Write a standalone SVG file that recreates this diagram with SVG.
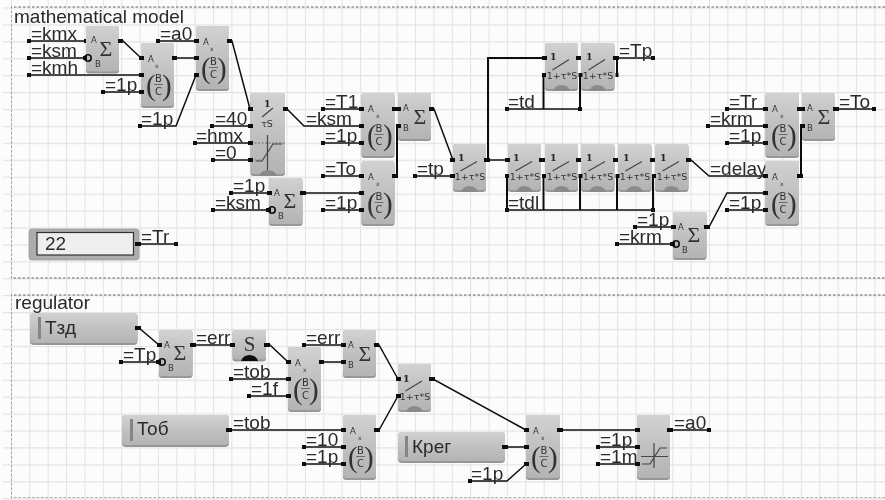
<svg xmlns="http://www.w3.org/2000/svg" width="885" height="500" viewBox="0 0 885 500">
<style>
text{font-family:"Liberation Sans",Arial,sans-serif;fill:#2a2a2a}
.l{font-size:19px}
.a{font-size:8.5px;font-family:"DejaVu Sans",sans-serif;fill:#333}
.x{font-size:6px;font-family:"DejaVu Sans",sans-serif;fill:#333}
.f{font-size:9.5px;font-family:"DejaVu Sans",sans-serif;fill:#333;text-anchor:middle}
.g{font-size:22px;font-family:"Liberation Serif",serif;fill:#333;text-anchor:middle}
.par{font-size:29px;font-family:"Liberation Serif",serif;fill:#333}
.one{font-size:9.5px;font-weight:bold;font-family:"DejaVu Serif",serif;fill:#222}
.den{font-size:10px;font-family:"DejaVu Sans",sans-serif;fill:#333;text-anchor:middle}
.e{fill:#979797}
.b{fill:url(#bg)}
.w{stroke:#111;stroke-width:1.5;fill:none;marker-start:url(#sq);marker-end:url(#sq)}
.n{stroke:#111;stroke-width:2;fill:none}
.p{fill:#111}
.i{fill:none;stroke:#111;stroke-width:1.6}
.sl{stroke:#444;stroke-width:1.2;fill:none}
.nt{fill:#8a8a8a}
.fr{fill:none;stroke:#666;stroke-width:1;stroke-dasharray:2.5 2}
.bar{stroke:#555;stroke-width:.8;fill:none}
</style>
<defs>
<linearGradient id="bg" x1="0" y1="0" x2="0" y2="1"><stop offset="0" stop-color="#d2d2d2"/><stop offset=".55" stop-color="#bfbfbf"/><stop offset="1" stop-color="#b4b4b4"/></linearGradient>
<pattern id="grid" patternUnits="userSpaceOnUse" x="-7.44" y="-9.5" width="18.37" height="16.92"><path d="M.5 0V16.92M0 .6H18.37" fill="none" stroke="#e3e3e3" stroke-width="1.1"/></pattern>
<marker id="sq" markerUnits="userSpaceOnUse" markerWidth="4" markerHeight="4" refX="2" refY="2"><rect width="4" height="4" fill="#111"/></marker>
<filter id="soft" x="0" y="0" width="100%" height="100%"><feGaussianBlur stdDeviation="0.35"/></filter>
</defs>
<rect width="885" height="500" fill="#fcfcfc"/>
<rect x="3" width="882" height="500" fill="url(#grid)"/>
<g filter="url(#soft)">
<g id="frames">
<path class="fr" d="M885 7H11V278H885"/>
<path class="fr" d="M885 295H11V498H885"/>
<text class="l" x="14" y="23">mathematical model</text>
<text class="l" x="15" y="309">regulator</text>
</g>
<g id="connectors">
<path class="w" d="M29 41H86"/><path class="w" d="M29 58H85"/><path class="w" d="M29 75H141"/>
<path class="w" d="M120 41H123L141 58"/><path class="w" d="M103 92H141"/><path class="w" d="M174 58H196"/>
<path class="w" d="M158 41H196"/><path class="w" d="M140 126H176L196 75"/><path class="w" d="M229 41H232L250 109"/>
<path class="w" d="M212 126H250"/><path class="w" d="M195 143H250"/><path class="w" d="M213 160H250"/>
<path class="w" d="M285 109H287L304 126H361"/><path class="w" d="M323 109H361"/><path class="w" d="M323 143H361"/>
<path class="w" d="M323 176H361"/><path class="w" d="M415 176H453"/><path class="w" d="M303 193H361"/>
<path class="w" d="M231 193H269"/><path class="w" d="M213 210H268"/><path class="w" d="M323 210H361"/>
<path class="n" d="M394 109H398"/><path class="n" d="M395 176H397V126H398"/>
<path class="w" d="M431 109H434L453 160"/>
<path class="w" d="M486 160H508"/><path class="n" d="M488 160V58H545"/><path class="n" d="M578 58H581"/>
<path class="w" d="M507 109H580"/><path class="n" d="M543.500 109V75M580 109V75"/>
<path class="w" d="M615 58H653"/><path class="n" d="M617 58V75"/>
<path class="n" d="M541 160H545M578 160H581M615 160H618M652 160H655"/>
<path class="w" d="M688 160H691L709 176H765"/>
<path class="w" d="M507 210H653"/><path class="n" d="M507 176V210M543.500 176V210M580 176V210M617 176V210M653 176V210"/>
<path class="w" d="M727 109H765"/><path class="w" d="M708 126H765"/><path class="w" d="M727 143H765"/><path class="w" d="M727 210H765"/>
<path class="w" d="M707 227H709L727 193H765"/><path class="w" d="M635 227H673"/><path class="w" d="M617 244H672"/>
<path class="n" d="M799 109H802"/><path class="n" d="M799 176H801V126H802"/><path class="w" d="M835 109H874"/>
<path class="w" d="M139 244H176"/>
<path class="w" d="M137 328H139L159 345"/><path class="w" d="M121 362H158"/><path class="w" d="M192 345H232"/>
<path class="w" d="M266 345H270L288 362"/><path class="w" d="M231 379H288"/><path class="w" d="M249 396H288"/>
<path class="w" d="M304 345H343"/><path class="w" d="M321 362H343"/><path class="w" d="M376 345H379L398 379"/>
<path class="w" d="M376 430H379L398 396"/><path class="w" d="M229 430H343"/><path class="w" d="M304 447H343"/><path class="w" d="M304 464H343"/>
<path class="w" d="M431 379H433L526 430"/><path class="w" d="M505 447H526"/><path class="w" d="M470 481H507L526 464"/>
<path class="w" d="M560 430H637"/><path class="w" d="M598 447H637"/><path class="w" d="M598 464H637"/><path class="w" d="M670 430H709"/>
</g>
<g id="labels">
<text class="l" x="31" y="40">=kmx</text><text class="l" x="31" y="57">=ksm</text><text class="l" x="31" y="74">=kmh</text>
<text class="l" x="105" y="91">=1p</text><text class="l" x="160" y="40">=a0</text><text class="l" x="141" y="125">=1p</text>
<text class="l" x="215" y="125">=40</text><text class="l" x="196" y="142">=hmx</text><text class="l" x="215" y="159">=0</text>
<text class="l" x="306" y="125">=ksm</text><text class="l" x="325" y="108">=T1</text><text class="l" x="325" y="142">=1p</text>
<text class="l" x="325" y="175">=To</text><text class="l" x="417" y="175">=tp</text><text class="l" x="233" y="192">=1p</text>
<text class="l" x="215" y="209">=ksm</text><text class="l" x="325" y="209">=1p</text>
<text class="l" x="508" y="108">=td</text><text class="l" x="619" y="57">=Tp</text><text class="l" x="710" y="175">=delay</text>
<text class="l" x="508" y="209">=tdl</text><text class="l" x="729" y="108">=Tr</text><text class="l" x="710" y="125">=krm</text>
<text class="l" x="729" y="142">=1p</text><text class="l" x="729" y="209">=1p</text><text class="l" x="637" y="226">=1p</text>
<text class="l" x="619" y="243">=krm</text><text class="l" x="839" y="108">=To</text><text class="l" x="141" y="243">=Tr</text>
<text class="l" x="123" y="361">=Tp</text><text class="l" x="196" y="344">=err</text><text class="l" x="233" y="378">=tob</text>
<text class="l" x="251" y="395">=1f</text><text class="l" x="306" y="344">=err</text><text class="l" x="233" y="429">=tob</text>
<text class="l" x="306" y="446">=10</text><text class="l" x="306" y="463">=1p</text><text class="l" x="471" y="480">=1p</text>
<text class="l" x="600" y="446">=1p</text><text class="l" x="600" y="463">=1m</text><text class="l" x="674" y="429">=a0</text>
</g>

<g id="sum1"><rect class="e" x="86" y="26" width="33" height="47.500" rx="3"/><rect class="b" x="86" y="26" width="33" height="45.500" rx="3"/>
<text class="a" x="91" y="43">A</text><text class="a" x="95" y="67">B</text><text class="g" x="106" y="56">Σ</text>
<circle class="i" cx="88" cy="58" r="3.200"/><rect class="p" x="83" y="56" width="4" height="4"/><rect class="p" x="118" y="39" width="5" height="4"/></g>

<g id="mult1"><rect class="e" x="141" y="43" width="33" height="65" rx="3"/><rect class="b" x="141" y="43" width="33" height="63" rx="3"/>
<text class="a" x="148" y="62">A</text><text class="x" x="155" y="68">x</text><text class="par" x="146" y="95">(</text><text class="par" x="162" y="95">)</text>
<text class="den" x="158.500" y="82">B</text><path class="bar" d="M154 84.500H163"/><text class="den" x="158.500" y="95">C</text>
<rect class="p" x="139" y="56" width="5" height="4"/><rect class="p" x="139" y="73" width="5" height="4"/><rect class="p" x="139" y="90" width="5" height="4"/><rect class="p" x="172" y="56" width="5" height="4"/></g>

<g id="mult2"><rect class="e" x="196" y="26" width="33" height="65" rx="3"/><rect class="b" x="196" y="26" width="33" height="63" rx="3"/>
<text class="a" x="203" y="45">A</text><text class="x" x="210" y="51">x</text><text class="par" x="201" y="78">(</text><text class="par" x="217" y="78">)</text>
<text class="den" x="213.500" y="65">B</text><path class="bar" d="M209 67.500H218"/><text class="den" x="213.500" y="78">C</text>
<rect class="p" x="194" y="39" width="5" height="4"/><rect class="p" x="194" y="56" width="5" height="4"/><rect class="p" x="194" y="73" width="5" height="4"/><rect class="p" x="227" y="39" width="5" height="4"/></g>

<g id="limit1"><rect class="e" x="250.500" y="93" width="34.500" height="83" rx="3"/><rect class="b" x="250.500" y="93" width="34.500" height="81" rx="3"/>
<text class="one" x="264" y="107">1</text><path class="sl" d="M262 117L273 108"/><text class="f" x="267" y="127">τS</text>
<path class="sl" d="M267.500 135V170"/><path class="bar" stroke-dasharray="2 1.500" d="M251 143H285M251 160H262"/><path class="sl" d="M256 161H262L273 144H282"/>
<path class="nt" d="M259 176Q261 170 268 170Q275 170 277 176Z"/>
<rect class="p" x="248" y="107" width="5" height="4"/><rect class="p" x="248" y="124" width="5" height="4"/><rect class="p" x="248" y="141" width="5" height="4"/><rect class="p" x="248" y="158" width="5" height="4"/><rect class="p" x="283" y="107" width="5" height="4"/></g>

<g id="mult3"><rect class="e" x="361.500" y="93" width="33" height="65" rx="3"/><rect class="b" x="361.500" y="93" width="33" height="63" rx="3"/>
<text class="a" x="368" y="112">A</text><text class="x" x="376" y="118">x</text><text class="par" x="367" y="145">(</text><text class="par" x="383" y="145">)</text>
<text class="den" x="379" y="132">B</text><path class="bar" d="M374.500 134.500H383.500"/><text class="den" x="379" y="145">C</text>
<rect class="p" x="359" y="107" width="5" height="4"/><rect class="p" x="359" y="124" width="5" height="4"/><rect class="p" x="359" y="141" width="5" height="4"/><rect class="p" x="392" y="107" width="6" height="4"/></g>

<g id="mult4"><rect class="e" x="361.500" y="161" width="33" height="65" rx="3"/><rect class="b" x="361.500" y="161" width="33" height="63" rx="3"/>
<text class="a" x="368" y="180">A</text><text class="x" x="376" y="186">x</text><text class="par" x="367" y="213">(</text><text class="par" x="383" y="213">)</text>
<text class="den" x="379" y="200">B</text><path class="bar" d="M374.500 202.500H383.500"/><text class="den" x="379" y="213">C</text>
<rect class="p" x="359" y="174" width="5" height="4"/><rect class="p" x="359" y="191" width="5" height="4"/><rect class="p" x="359" y="208" width="5" height="4"/><rect class="p" x="392" y="174" width="6" height="4"/></g>

<g id="sum2"><rect class="e" x="398" y="93" width="33" height="48" rx="3"/><rect class="b" x="398" y="93" width="33" height="46" rx="3"/>
<text class="a" x="403" y="111">A</text><text class="a" x="403" y="131">B</text><text class="g" x="420" y="124">Σ</text>
<rect class="p" x="396" y="107" width="5" height="4"/><rect class="p" x="396" y="124" width="5" height="4"/><rect class="p" x="429" y="107" width="5" height="4"/></g>

<g id="sum3"><rect class="e" x="269" y="178" width="33.500" height="48" rx="3"/><rect class="b" x="269" y="178" width="33.500" height="46" rx="3"/>
<text class="a" x="274" y="196">A</text><text class="a" x="278" y="219">B</text><text class="g" x="290" y="208">Σ</text>
<circle class="i" cx="272" cy="210" r="3.200"/><rect class="p" x="266" y="208" width="5" height="4"/><rect class="p" x="267" y="191" width="5" height="4"/><rect class="p" x="300" y="191" width="6" height="4"/></g>

<g id="lag0"><rect class="e" x="453" y="144" width="33" height="48" rx="3"/><rect class="b" x="453" y="144" width="33" height="46" rx="3"/>
<text class="one" x="458" y="161">1</text><path class="sl" d="M460.500 171L477 161.500"/><text class="f" x="470" y="180">1+τ*S</text><path class="nt" d="M461 192Q463 186 469.500 186Q476 186 478 192Z"/>
<rect class="p" x="450" y="158" width="5" height="4"/><rect class="p" x="450" y="174" width="5" height="4"/><rect class="p" x="484" y="158" width="6" height="4"/></g>

<g id="lag1"><rect class="e" x="508" y="144" width="33" height="48" rx="3"/><rect class="b" x="508" y="144" width="33" height="46" rx="3"/>
<text class="one" x="513" y="161">1</text><path class="sl" d="M515.500 171L532 161.500"/><text class="f" x="525" y="180">1+τ*S</text><path class="nt" d="M516 192Q518 186 524.500 186Q531 186 533 192Z"/>
<rect class="p" x="505" y="158" width="5" height="4"/><rect class="p" x="505" y="174" width="4" height="4"/><rect class="p" x="539" y="158" width="6" height="4"/></g>

<g id="lag2"><rect class="e" x="545" y="144" width="33" height="48" rx="3"/><rect class="b" x="545" y="144" width="33" height="46" rx="3"/>
<text class="one" x="550" y="161">1</text><path class="sl" d="M552.500 171L569 161.500"/><text class="f" x="562" y="180">1+τ*S</text><path class="nt" d="M553 192Q555 186 561.500 186Q568 186 570 192Z"/>
<rect class="p" x="542" y="174" width="4" height="4"/><rect class="p" x="576" y="158" width="6" height="4"/></g>

<g id="lag3"><rect class="e" x="581" y="144" width="33.500" height="48" rx="3"/><rect class="b" x="581" y="144" width="33.500" height="46" rx="3"/>
<text class="one" x="586" y="161">1</text><path class="sl" d="M588.500 171L605 161.500"/><text class="f" x="598" y="180">1+τ*S</text><path class="nt" d="M589 192Q591 186 597.500 186Q604 186 606 192Z"/>
<rect class="p" x="578.500" y="174" width="4" height="4"/><rect class="p" x="613" y="158" width="6" height="4"/></g>

<g id="lag4"><rect class="e" x="618" y="144" width="33.500" height="48" rx="3"/><rect class="b" x="618" y="144" width="33.500" height="46" rx="3"/>
<text class="one" x="623" y="161">1</text><path class="sl" d="M625.500 171L642 161.500"/><text class="f" x="635" y="180">1+τ*S</text><path class="nt" d="M626 192Q628 186 634.500 186Q641 186 643 192Z"/>
<rect class="p" x="615.500" y="174" width="4" height="4"/><rect class="p" x="650" y="158" width="6" height="4"/></g>

<g id="lag5"><rect class="e" x="655" y="144" width="33.500" height="48" rx="3"/><rect class="b" x="655" y="144" width="33.500" height="46" rx="3"/>
<text class="one" x="660" y="161">1</text><path class="sl" d="M662.500 171L679 161.500"/><text class="f" x="672" y="180">1+τ*S</text><path class="nt" d="M663 192Q665 186 671.500 186Q678 186 680 192Z"/>
<rect class="p" x="652" y="174" width="4" height="4"/><rect class="p" x="686" y="158" width="5" height="4"/></g>

<g id="lagt1"><rect class="e" x="545" y="43" width="33" height="48" rx="3"/><rect class="b" x="545" y="43" width="33" height="46" rx="3"/>
<text class="one" x="550" y="60">1</text><path class="sl" d="M552.500 70L569 59.500"/><text class="f" x="562" y="79">1+τ*S</text><path class="nt" d="M553 91Q555 85 561.500 85Q568 85 570 91Z"/>
<rect class="p" x="542" y="56" width="5" height="4"/><rect class="p" x="542" y="73" width="4" height="4"/><rect class="p" x="576" y="56" width="6" height="4"/></g>

<g id="lagt2"><rect class="e" x="581" y="43" width="33.500" height="48" rx="3"/><rect class="b" x="581" y="43" width="33.500" height="46" rx="3"/>
<text class="one" x="586" y="60">1</text><path class="sl" d="M588.500 70L605 59.500"/><text class="f" x="598" y="79">1+τ*S</text><path class="nt" d="M589 91Q591 85 597.500 85Q604 85 606 91Z"/>
<rect class="p" x="578.500" y="73" width="4" height="4"/><rect class="p" x="613" y="56" width="6" height="4"/><rect class="p" x="615.500" y="73" width="3" height="4"/></g>

<g id="mult5"><rect class="e" x="765.500" y="93" width="33.500" height="65" rx="3"/><rect class="b" x="765.500" y="93" width="33.500" height="63" rx="3"/>
<text class="a" x="772" y="112">A</text><text class="x" x="780" y="118">x</text><text class="par" x="771" y="145">(</text><text class="par" x="787" y="145">)</text>
<text class="den" x="783" y="132">B</text><path class="bar" d="M778.500 134.500H787.500"/><text class="den" x="783" y="145">C</text>
<rect class="p" x="763" y="107" width="5" height="4"/><rect class="p" x="763" y="124" width="5" height="4"/><rect class="p" x="763" y="141" width="5" height="4"/><rect class="p" x="797" y="107" width="6" height="4"/></g>

<g id="mult6"><rect class="e" x="765.500" y="161" width="33.500" height="65" rx="3"/><rect class="b" x="765.500" y="161" width="33.500" height="63" rx="3"/>
<text class="a" x="772" y="180">A</text><text class="x" x="780" y="186">x</text><text class="par" x="771" y="213">(</text><text class="par" x="787" y="213">)</text>
<text class="den" x="783" y="200">B</text><path class="bar" d="M778.500 202.500H787.500"/><text class="den" x="783" y="213">C</text>
<rect class="p" x="763" y="174" width="5" height="4"/><rect class="p" x="763" y="191" width="5" height="4"/><rect class="p" x="763" y="208" width="5" height="4"/><rect class="p" x="797" y="174" width="6" height="4"/></g>

<g id="sum4"><rect class="e" x="802" y="93" width="33" height="48" rx="3"/><rect class="b" x="802" y="93" width="33" height="46" rx="3"/>
<text class="a" x="807" y="111">A</text><text class="a" x="807" y="131">B</text><text class="g" x="824" y="124">Σ</text>
<rect class="p" x="800" y="107" width="5" height="4"/><rect class="p" x="800" y="124" width="5" height="4"/><rect class="p" x="833" y="107" width="6" height="4"/></g>

<g id="sum5"><rect class="e" x="673" y="212" width="33.500" height="48" rx="3"/><rect class="b" x="673" y="212" width="33.500" height="46" rx="3"/>
<text class="a" x="678" y="230">A</text><text class="a" x="682" y="253">B</text><text class="g" x="694" y="242">Σ</text>
<circle class="i" cx="676" cy="244" r="3.200"/><rect class="p" x="670" y="242" width="5" height="4"/><rect class="p" x="671" y="225" width="5" height="4"/><rect class="p" x="704" y="225" width="6" height="4"/></g>

<g id="widget22"><rect x="29" y="229" width="110" height="31" rx="3" fill="#adadad" stroke="#999" stroke-width=".8"/>
<rect x="37" y="232.500" width="96.500" height="22.500" fill="#eeeeee" stroke="#333" stroke-width="1.200"/>
<text class="l" x="45" y="250">22</text><rect class="p" x="135" y="242" width="6" height="4"/></g>

<g id="tzd"><rect class="e" x="30" y="313" width="107.500" height="32" rx="4"/><rect class="b" x="30" y="313" width="107.500" height="30" rx="4"/>
<rect x="38" y="317" width="3" height="22" fill="#858585"/><text class="l" x="45" y="334">Тзд</text><rect class="p" x="135" y="326" width="6" height="4"/></g>

<g id="sum6"><rect class="e" x="159" y="330" width="33.500" height="48" rx="3"/><rect class="b" x="159" y="330" width="33.500" height="46" rx="3"/>
<text class="a" x="164" y="348">A</text><text class="a" x="168" y="371">B</text><text class="g" x="180" y="360">Σ</text>
<circle class="i" cx="162" cy="362" r="3.200"/><rect class="p" x="156" y="360" width="5" height="4"/><rect class="p" x="157" y="343" width="5" height="4"/><rect class="p" x="190" y="343" width="6" height="4"/></g>

<g id="integ"><rect class="e" x="232.500" y="330" width="33.500" height="31.500" rx="3"/><rect class="b" x="232.500" y="330" width="33.500" height="29.500" rx="3"/>
<text class="g" x="249.500" y="351" style="font-size:21px">S</text><path d="M241 361Q243 355 249.500 355Q256 355 258 361Z" fill="#111"/>
<rect class="p" x="230" y="343" width="5" height="4"/><rect class="p" x="264" y="343" width="6" height="4"/></g>

<g id="mult7"><rect class="e" x="288" y="347" width="33" height="65" rx="3"/><rect class="b" x="288" y="347" width="33" height="63" rx="3"/>
<text class="a" x="295" y="366">A</text><text class="x" x="303" y="372">x</text><text class="par" x="293" y="399">(</text><text class="par" x="309" y="399">)</text>
<text class="den" x="305.500" y="386">B</text><path class="bar" d="M301 388.500H310"/><text class="den" x="305.500" y="399">C</text>
<rect class="p" x="286" y="360" width="5" height="4"/><rect class="p" x="286" y="377" width="5" height="4"/><rect class="p" x="286" y="394" width="5" height="4"/><rect class="p" x="319" y="360" width="5" height="4"/></g>

<g id="sum7"><rect class="e" x="343" y="330" width="33" height="48" rx="3"/><rect class="b" x="343" y="330" width="33" height="46" rx="3"/>
<text class="a" x="348" y="348">A</text><text class="a" x="348" y="368">B</text><text class="g" x="365" y="361">Σ</text>
<rect class="p" x="341" y="343" width="5" height="4"/><rect class="p" x="341" y="360" width="5" height="4"/><rect class="p" x="374" y="343" width="5" height="4"/></g>

<g id="lag6"><rect class="e" x="398" y="364" width="33" height="48" rx="3"/><rect class="b" x="398" y="364" width="33" height="46" rx="3"/>
<text class="one" x="403" y="382">1</text><path class="sl" d="M405.500 391L422 381"/><text class="f" x="415" y="400">1+τ*S</text><path class="nt" d="M406 412Q408 406 414.500 406Q421 406 423 412Z"/>
<rect class="p" x="396" y="377" width="5" height="4"/><rect class="p" x="396" y="394" width="5" height="4"/><rect class="p" x="429" y="377" width="6" height="4"/></g>

<g id="tob"><rect class="e" x="122" y="415" width="107" height="32" rx="4"/><rect class="b" x="122" y="415" width="107" height="30" rx="4"/>
<rect x="130" y="419" width="3" height="22" fill="#858585"/><text class="l" x="137" y="435">Тоб</text><rect class="p" x="226" y="428" width="6" height="4"/></g>

<g id="mult8"><rect class="e" x="343" y="415" width="33" height="65" rx="3"/><rect class="b" x="343" y="415" width="33" height="63" rx="3"/>
<text class="a" x="350" y="434">A</text><text class="x" x="358" y="440">x</text><text class="par" x="348" y="467">(</text><text class="par" x="364" y="467">)</text>
<text class="den" x="360.500" y="454">B</text><path class="bar" d="M356 456.500H365"/><text class="den" x="360.500" y="467">C</text>
<rect class="p" x="341" y="428" width="5" height="4"/><rect class="p" x="341" y="445" width="5" height="4"/><rect class="p" x="341" y="462" width="5" height="4"/><rect class="p" x="374" y="428" width="6" height="4"/></g>

<g id="kreg"><rect class="e" x="398" y="432" width="107" height="31" rx="4"/><rect class="b" x="398" y="432" width="107" height="29" rx="4"/>
<rect x="405" y="436" width="3" height="21" fill="#858585"/><text class="l" x="412" y="453">Крег</text><rect class="p" x="502" y="445" width="6" height="4"/></g>

<g id="mult9"><rect class="e" x="526" y="415" width="34" height="65" rx="3"/><rect class="b" x="526" y="415" width="34" height="63" rx="3"/>
<text class="a" x="533" y="434">A</text><text class="x" x="541" y="440">x</text><text class="par" x="531" y="467">(</text><text class="par" x="548" y="467">)</text>
<text class="den" x="544" y="454">B</text><path class="bar" d="M539.500 456.500H548.500"/><text class="den" x="544" y="467">C</text>
<rect class="p" x="524" y="428" width="5" height="4"/><rect class="p" x="524" y="445" width="5" height="4"/><rect class="p" x="524" y="462" width="5" height="4"/><rect class="p" x="557" y="428" width="6" height="4"/></g>

<g id="limit2"><rect class="e" x="637" y="415" width="33" height="65" rx="3"/><rect class="b" x="637" y="415" width="33" height="63" rx="3"/>
<path class="sl" d="M654 443V468M641 456.500H668M642 464H650L660 448H667" stroke="#666"/>
<rect class="p" x="635" y="428" width="5" height="4"/><rect class="p" x="635" y="445" width="5" height="4"/><rect class="p" x="635" y="462" width="5" height="4"/><rect class="p" x="667" y="428" width="6" height="4"/></g>
</g>
</svg>
